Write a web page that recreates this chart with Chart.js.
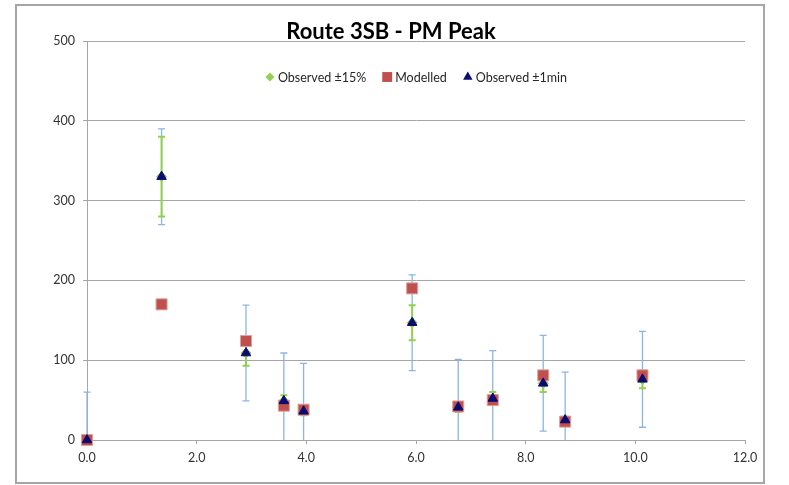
<!DOCTYPE html>
<html>
<head>
<meta charset="utf-8">
<script src="https://cdn.jsdelivr.net/npm/chart.js@4/dist/chart.umd.min.js"></script>
<style>
  html, body { margin: 0; padding: 0; background: #ffffff; }
  #wrap { width: 789px; height: 485px; }
</style>
</head>
<body>
<div id="wrap"><canvas id="c" width="789" height="485"></canvas></div>
<script>
// Distance along route (x) for each timing point
const distance = [0.0, 1.36, 2.90, 3.59, 3.95, 5.93, 6.77, 7.40, 8.32, 8.72, 10.13];
// Observed journey times
const observed = [0, 330, 109, 49, 36, 147, 41, 52, 71, 25, 76];
// Modelled journey times
const modelled = [0, 170, 124, 43, 38, 190, 42, 50, 81, 23, 81];
// Observed ±15% band (low / high)
const band15Low  = [0, 280, 93, 42, 31, 125, 35, 44, 60, 21, 65];
const band15High = [0, 380, 125, 56, 41, 169, 47, 60, 82, 29, 87];
// Observed ±1min band (low / high)
const band1mLow  = [-60, 270, 49, -11, -24, 87, -19, -8, 11, -35, 16];
const band1mHigh = [60, 390, 169, 109, 96, 207, 101, 112, 131, 85, 136];

const xTicks = [0, 2, 4, 6, 8, 10, 12];
const yTicks = [0, 100, 200, 300, 400, 500];

const titleText = 'Route 3SB - PM Peak';
const seriesNames = ['Observed ±15%', 'Modelled', 'Observed ±1min'];

const FONT = 'Lato, "Open Sans", sans-serif';
const GREEN = '#92D050';
const RED = '#C0504D';
const NAVY = '#0B0B70';
const LIGHTBLUE = '#8DB4E2';
const GRID = '#A6A6A6';

const pts = (ys) => distance.map((x, i) => ({ x: x, y: ys[i] }));

// Outer frame and title
const framePlugin = {
  id: 'frame',
  beforeDraw(chart) {
    const ctx = chart.ctx;
    ctx.save();
    ctx.fillStyle = '#ffffff';
    ctx.fillRect(0, 0, chart.width, chart.height);
    ctx.strokeStyle = GRID;
    ctx.lineWidth = 2;
    ctx.strokeRect(16, 5, 748, 478);
    ctx.restore();
  },
  afterDraw(chart) {
    const ctx = chart.ctx;
    ctx.save();
    ctx.fillStyle = '#000000';
    ctx.font = 'bold 22px ' + FONT;
    ctx.textAlign = 'center';
    ctx.textBaseline = 'alphabetic';
    ctx.fillText(titleText, 391, 39);
    ctx.restore();
  }
};

// Vertical error bars with caps, drawn behind the markers
function drawBars(chart, lows, highs, color, width, cap) {
  const ctx = chart.ctx;
  const xs = chart.scales.x, ys = chart.scales.y;
  const area = chart.chartArea;
  ctx.save();
  ctx.strokeStyle = color;
  ctx.lineWidth = width;
  for (let i = 0; i < distance.length; i++) {
    if (lows[i] === highs[i]) continue;
    const px = xs.getPixelForValue(distance[i]);
    const yl = ys.getPixelForValue(lows[i]);
    const yh = ys.getPixelForValue(highs[i]);
    const top = Math.max(yh, area.top);
    const bot = Math.min(yl, area.bottom);
    ctx.beginPath();
    ctx.moveTo(px, top);
    ctx.lineTo(px, bot);
    if (yh >= area.top && yh <= area.bottom) {
      ctx.moveTo(px - cap, yh);
      ctx.lineTo(px + cap, yh);
    }
    if (yl >= area.top && yl < area.bottom - 0.5) {
      ctx.moveTo(px - cap, yl);
      ctx.lineTo(px + cap, yl);
    }
    ctx.stroke();
  }
  ctx.restore();
}

const errorBarPlugin = {
  id: 'errorBars',
  beforeDatasetsDraw(chart) {
    drawBars(chart, band1mLow, band1mHigh, LIGHTBLUE, 1.3, 3.5);
    drawBars(chart, band15Low, band15High, GREEN, 2, 3.5);
  }
};

// Legend placed inside the plot area
const legendPlugin = {
  id: 'insideLegend',
  afterDraw(chart) {
    const ctx = chart.ctx;
    const area = chart.chartArea;
    ctx.save();
    ctx.font = '12.5px ' + FONT;
    ctx.textBaseline = 'middle';
    const markerW = 10, gapMT = 3, gapItem = 16;
    const widths = seriesNames.map(n => ctx.measureText(n).width);
    const total = widths.reduce((a, w) => a + markerW + gapMT + w, 0) + gapItem * (seriesNames.length - 1);
    let x = (area.left + area.right) / 2 - total / 2;
    const y = 77;
    const styles = [
      { style: 'rectRot', color: GREEN, r: 4.5 },
      { style: 'rect', color: RED, r: 7 },
      { style: 'triangle', color: NAVY, r: 5.5 }
    ];
    seriesNames.forEach((name, i) => {
      const s = styles[i];
      ctx.fillStyle = s.color;
      ctx.strokeStyle = s.color;
      ctx.lineWidth = 1;
      Chart.helpers.drawPoint(ctx, { pointStyle: s.style, radius: s.r, borderWidth: 0, rotation: 0 }, x + markerW / 2, y);
      ctx.fillStyle = '#262626';
      ctx.fillText(name, x + markerW + gapMT, y + 1);
      x += markerW + gapMT + widths[i] + gapItem;
    });
    ctx.restore();
  }
};

new Chart(document.getElementById('c'), {
  type: 'scatter',
  data: {
    datasets: [
      {
        label: seriesNames[2],
        data: pts(observed),
        pointStyle: 'triangle',
        pointRadius: 5.5,
        pointHoverRadius: 5.5,
        backgroundColor: NAVY,
        borderColor: NAVY,
        borderWidth: 1,
        clip: false,
        order: 0
      },
      {
        label: seriesNames[1],
        data: pts(modelled),
        pointStyle: 'rect',
        pointRadius: 7.8,
        pointHoverRadius: 7.8,
        backgroundColor: RED,
        borderColor: '#DDA09E',
        borderWidth: 1,
        clip: false,
        order: 1
      },
      {
        label: seriesNames[0],
        data: pts(observed),
        pointStyle: 'rectRot',
        pointRadius: 5,
        pointHoverRadius: 5,
        backgroundColor: GREEN,
        borderColor: GREEN,
        borderWidth: 1,
        clip: false,
        order: 2
      }
    ]
  },
  options: {
    responsive: false,
    animation: false,
    devicePixelRatio: 1,
    layout: { padding: { left: 0, right: 44, top: 41, bottom: 0 } },
    plugins: {
      legend: { display: false },
      title: { display: false },
      tooltip: { enabled: false }
    },
    scales: {
      x: {
        type: 'linear',
        min: xTicks[0],
        max: xTicks[xTicks.length - 1],
        afterBuildTicks(scale) { scale.ticks = xTicks.map(v => ({ value: v })); },
        afterFit(scale) { scale.height = 45; },
        grid: { drawOnChartArea: false, drawTicks: true, tickLength: 4, color: GRID, tickColor: GRID },
        border: { display: true, color: GRID, width: 1 },
        ticks: {
          color: '#333333',
          font: { family: FONT, size: 12.5 },
          padding: 6,
          maxRotation: 0,
          callback: (v) => Number(v).toFixed(1)
        }
      },
      y: {
        type: 'linear',
        min: yTicks[0],
        max: yTicks[yTicks.length - 1],
        afterBuildTicks(scale) { scale.ticks = yTicks.map(v => ({ value: v })); },
        afterFit(scale) { scale.width = 87; },
        grid: { drawOnChartArea: true, drawTicks: true, tickLength: 4, color: GRID, tickColor: GRID, lineWidth: 1 },
        border: { display: true, color: GRID, width: 1 },
        ticks: {
          color: '#333333',
          font: { family: FONT, size: 12.5 },
          padding: 8,
          callback: (v) => String(v)
        }
      }
    }
  },
  plugins: [framePlugin, errorBarPlugin, legendPlugin]
});
</script>
</body>
</html>
